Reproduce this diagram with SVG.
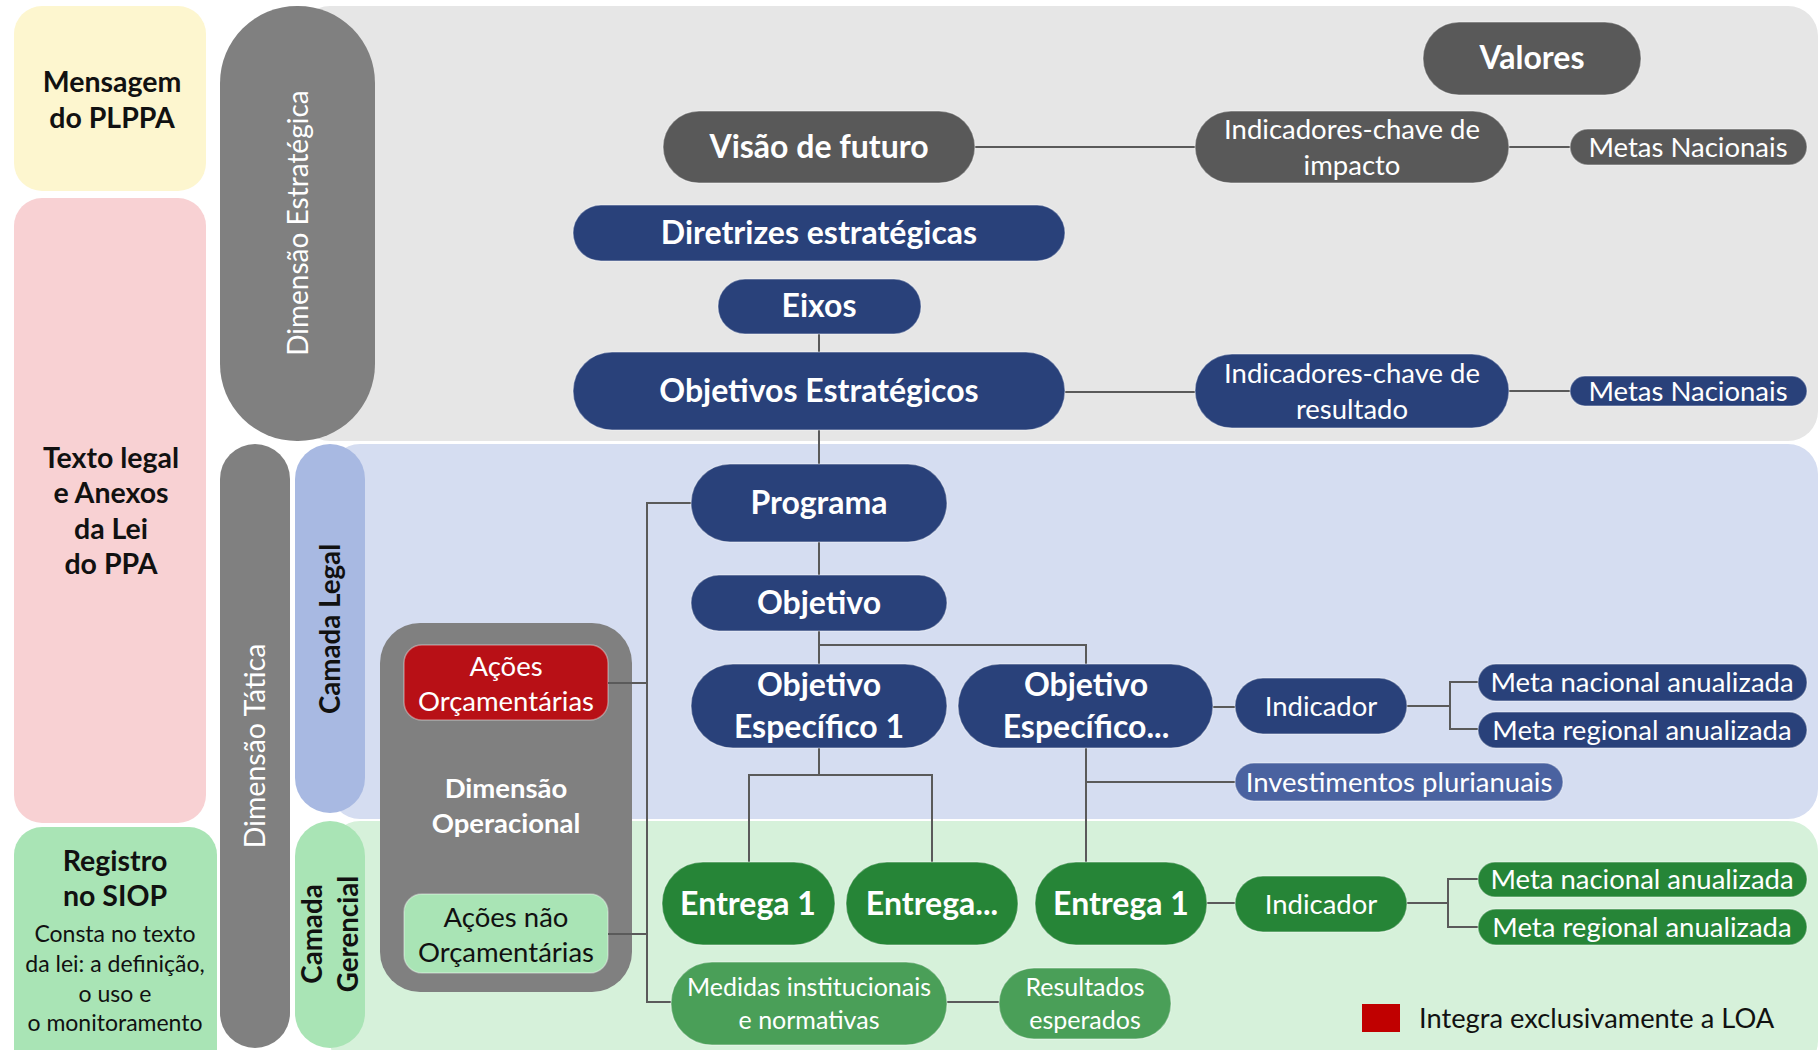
<svg xmlns="http://www.w3.org/2000/svg" width="1818" height="1050" viewBox="0 0 1818 1050">
<defs>
<style>
text{font-family:Lato,"Open Sans","Liberation Sans",sans-serif;text-anchor:middle}
.b{font-weight:bold}
.w{fill:#ffffff}
.k{fill:#111111}
.big{font-size:32px;font-weight:bold;fill:#fff}
.reg{font-size:27.5px;fill:#fff}
.mid{font-size:25px;fill:#fff}
.lab{font-size:28.5px;font-weight:bold;fill:#111}
.small{font-size:23px;fill:#111}
.gray{fill:#595959}
.blue{fill:#29417a}
.inv{fill:#4a62a0}
.green{fill:#268537}
.mgreen{fill:#4a9f58}
.lgreen{fill:#a9e4b5}
.pill{fill:#808080}
.n{stroke:#ffffff;stroke-opacity:0.35;stroke-width:1.5}
.c{fill:none;stroke:#5a5a5a;stroke-width:2}
</style>
</defs>

<!-- background panels -->
<rect x="300" y="6" width="1518" height="435" rx="30" fill="#e6e6e6"/>
<rect x="330" y="444" width="1488" height="375" rx="30" fill="#d5ddf1"/>
<rect x="330" y="821" width="1488" height="250" rx="30" fill="#d6f1da"/>

<!-- left column -->
<g id="mensagem">
<rect x="14" y="6" width="192" height="185" rx="28" fill="#fdf6cf"/>
<text class="lab" x="112" y="92">Mensagem</text>
<text class="lab" x="112" y="128">do PLPPA</text>
</g>
<g id="texto-legal">
<rect x="14" y="198" width="192" height="625" rx="28" fill="#f8d1d3"/>
<text class="lab" x="111" y="468">Texto legal</text>
<text class="lab" x="111" y="503">e Anexos</text>
<text class="lab" x="111" y="539">da Lei</text>
<text class="lab" x="111" y="574">do PPA</text>
</g>
<g id="registro">
<rect x="14" y="827" width="203" height="250" rx="28" fill="#a9e4b5"/>
<text class="lab" x="115" y="871">Registro</text>
<text class="lab" x="115" y="906">no SIOP</text>
<text class="small" x="115" y="942">Consta no texto</text>
<text class="small" x="115" y="972">da lei: a definição,</text>
<text class="small" x="115" y="1002">o uso e</text>
<text class="small" x="115" y="1031">o monitoramento</text>
</g>

<!-- dimension pills -->
<g id="dim-estrategica">
<rect class="pill" x="220" y="6" width="155" height="435" rx="77"/>
<text class="w" font-size="28" transform="translate(298,223) rotate(-90)" y="10">Dimensão Estratégica</text>
</g>
<g id="dim-tatica">
<rect class="pill" x="220" y="444" width="70" height="604" rx="35"/>
<text class="w" font-size="28.5" transform="translate(255,746) rotate(-90)" y="10">Dimensão Tática</text>
</g>
<g id="camada-legal">
<rect x="295" y="444" width="70" height="369" rx="35" fill="#a8b9e2"/>
<text class="k b" font-size="27.7" transform="translate(330,629) rotate(-90)" y="10">Camada Legal</text>
</g>
<g id="camada-gerencial">
<rect x="295" y="821" width="70" height="227" rx="35" fill="#a9e4b5"/>
<g transform="translate(330,934) rotate(-90)">
<text class="k b" font-size="27.7" x="0" y="-8">Camada</text>
<text class="k b" font-size="27.7" x="0" y="28">Gerencial</text>
</g>
</g>

<!-- operational dimension -->
<g id="dim-operacional">
<rect class="pill" x="380" y="623" width="252" height="369" rx="40"/>
<text class="b w" font-size="27.5" x="506" y="798">Dimensão</text>
<text class="b w" font-size="27.5" x="506" y="833">Operacional</text>
</g>
<g id="acoes-orcamentarias">
<rect x="404" y="645" width="204" height="75" rx="18" fill="#b81016" class="n"/>
<text class="reg" x="506" y="676">Ações</text>
<text class="reg" x="506" y="711">Orçamentárias</text>
</g>
<g id="acoes-nao-orcamentarias">
<rect x="404" y="894" width="204" height="79" rx="18" class="lgreen n"/>
<text class="k" font-size="27.5" x="506" y="927">Ações não</text>
<text class="k" font-size="27.5" x="506" y="962">Orçamentárias</text>
</g>

<!-- connectors -->
<g id="connectors">
<path class="c" d="M975 147H1195"/>
<path class="c" d="M1509 147H1570"/>
<path class="c" d="M819 334V352"/>
<path class="c" d="M1065 392H1195"/>
<path class="c" d="M1509 391H1570"/>
<path class="c" d="M819 430V464"/>
<path class="c" d="M819 542V575"/>
<path class="c" d="M819 631V664M819 645H1086V664"/>
<path class="c" d="M819 748V775M749 862V775H932V862"/>
<path class="c" d="M1086 748V862M1086 782H1235"/>
<path class="c" d="M1213 707H1235"/>
<path class="c" d="M1407 706H1450M1478 682H1450V729H1478"/>
<path class="c" d="M1207 903H1235"/>
<path class="c" d="M1407 903H1448M1478 879H1448V927H1478"/>
<path class="c" d="M947 1002H999"/>
<path class="c" d="M691 503H647V1002H671M608 683H647M608 934H647"/>
</g>

<!-- strategic nodes -->
<g id="valores">
<rect class="gray n" x="1423" y="22" width="218" height="73" rx="36"/>
<text class="big" x="1532" y="69">Valores</text>
</g>
<g id="visao-de-futuro">
<rect class="gray n" x="663" y="111" width="312" height="72" rx="36"/>
<text class="big" x="819" y="158">Visão de futuro</text>
</g>
<g id="indicadores-impacto">
<rect class="gray n" x="1195" y="111" width="314" height="72" rx="36"/>
<text class="reg" x="1352" y="139">Indicadores-chave de</text>
<text class="reg" x="1352" y="175">impacto</text>
</g>
<g id="metas-nacionais-1">
<rect class="gray n" x="1570" y="129" width="237" height="36" rx="18"/>
<text class="reg" x="1688" y="157">Metas Nacionais</text>
</g>
<g id="diretrizes">
<rect class="blue n" x="573" y="205" width="492" height="56" rx="28"/>
<text class="big" x="819" y="244">Diretrizes estratégicas</text>
</g>
<g id="eixos">
<rect class="blue n" x="718" y="279" width="203" height="55" rx="27"/>
<text class="big" x="819" y="317">Eixos</text>
</g>
<g id="objetivos-estrategicos">
<rect class="blue n" x="573" y="352" width="492" height="78" rx="39"/>
<text class="big" x="819" y="402">Objetivos Estratégicos</text>
</g>
<g id="indicadores-resultado">
<rect class="blue n" x="1195" y="354" width="314" height="74" rx="37"/>
<text class="reg" x="1352" y="383">Indicadores-chave de</text>
<text class="reg" x="1352" y="419">resultado</text>
</g>
<g id="metas-nacionais-2">
<rect class="blue n" x="1570" y="376" width="237" height="30" rx="15"/>
<text class="reg" x="1688" y="401">Metas Nacionais</text>
</g>

<!-- tactical nodes -->
<g id="programa">
<rect class="blue n" x="691" y="464" width="256" height="78" rx="39"/>
<text class="big" x="819" y="514">Programa</text>
</g>
<g id="objetivo">
<rect class="blue n" x="691" y="575" width="256" height="56" rx="28"/>
<text class="big" x="819" y="614">Objetivo</text>
</g>
<g id="objetivo-especifico-1">
<rect class="blue n" x="691" y="664" width="256" height="84" rx="42"/>
<text class="big" x="819" y="696">Objetivo</text>
<text class="big" x="819" y="738">Específico 1</text>
</g>
<g id="objetivo-especifico-n">
<rect class="blue n" x="958" y="664" width="255" height="84" rx="42"/>
<text class="big" x="1086" y="696">Objetivo</text>
<text class="big" x="1086" y="738">Específico...</text>
</g>
<g id="indicador-1">
<rect class="blue n" x="1235" y="678" width="172" height="56" rx="28"/>
<text class="reg" x="1321" y="716">Indicador</text>
</g>
<g id="meta-nacional-1">
<rect class="blue n" x="1478" y="664" width="329" height="37" rx="18"/>
<text class="reg" x="1642" y="692">Meta nacional anualizada</text>
</g>
<g id="meta-regional-1">
<rect class="blue n" x="1478" y="712" width="329" height="36" rx="18"/>
<text class="reg" x="1642" y="740">Meta regional anualizada</text>
</g>
<g id="investimentos">
<rect class="inv n" x="1235" y="763" width="328" height="38" rx="19"/>
<text class="reg" x="1399" y="792">Investimentos plurianuais</text>
</g>

<!-- managerial nodes -->
<g id="entrega-1a">
<rect class="green n" x="662" y="862" width="173" height="83" rx="41"/>
<text class="big" x="748" y="915">Entrega 1</text>
</g>
<g id="entrega-n">
<rect class="green n" x="846" y="862" width="172" height="83" rx="41"/>
<text class="big" x="932" y="915">Entrega...</text>
</g>
<g id="entrega-1b">
<rect class="green n" x="1035" y="862" width="172" height="83" rx="41"/>
<text class="big" x="1121" y="915">Entrega 1</text>
</g>
<g id="indicador-2">
<rect class="green n" x="1235" y="876" width="172" height="56" rx="28"/>
<text class="reg" x="1321" y="914">Indicador</text>
</g>
<g id="meta-nacional-2">
<rect class="green n" x="1478" y="862" width="329" height="35" rx="17"/>
<text class="reg" x="1642" y="889">Meta nacional anualizada</text>
</g>
<g id="meta-regional-2">
<rect class="green n" x="1478" y="909" width="329" height="36" rx="18"/>
<text class="reg" x="1642" y="937">Meta regional anualizada</text>
</g>
<g id="medidas">
<rect class="mgreen n" x="671" y="962" width="276" height="83" rx="41"/>
<text class="mid" x="809" y="996">Medidas institucionais</text>
<text class="mid" x="809" y="1029">e normativas</text>
</g>
<g id="resultados">
<rect class="mgreen n" x="999" y="968" width="172" height="71" rx="35"/>
<text class="mid" x="1085" y="996">Resultados</text>
<text class="mid" x="1085" y="1029">esperados</text>
</g>

<!-- legend -->
<g id="legend">
<rect x="1362" y="1004" width="38" height="28" fill="#c00000"/>
<text class="k" font-size="27.3" x="1419" y="1028" style="text-anchor:start">Integra exclusivamente a LOA</text>
</g>
</svg>
